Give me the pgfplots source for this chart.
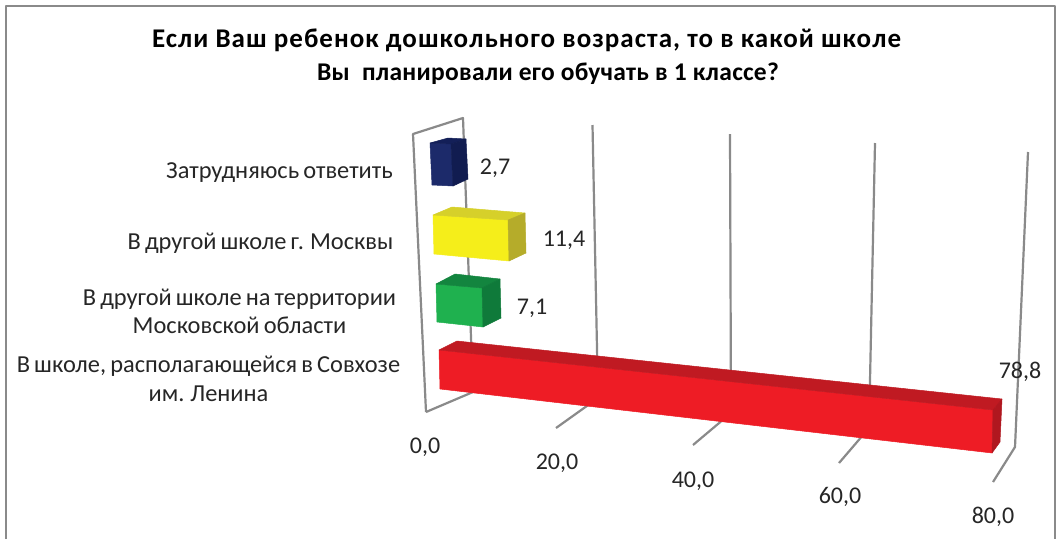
\documentclass[border=0pt]{standalone}
\usepackage{pgfplots}
\usepackage{fontspec}
\pgfplotsset{compat=1.18}
\setmainfont{Carlito}
\newfontfamily\titleA[LetterSpace=3.9]{Carlito}
\newfontfamily\titleB[LetterSpace=1.1]{Carlito}
\newfontfamily\catf[WordSpace=0.75]{Carlito}
\definecolor{gridg}{HTML}{8A8A8A}
\definecolor{txt}{HTML}{262626}
\definecolor{navyF}{HTML}{1C2A6A}
\definecolor{navyT}{HTML}{131F58}
\definecolor{navyS}{HTML}{111C50}
\definecolor{yelF}{HTML}{F5EE1A}
\definecolor{yelT}{HTML}{D6D02A}
\definecolor{yelS}{HTML}{B5AC2A}
\definecolor{grnF}{HTML}{1FB14F}
\definecolor{grnT}{HTML}{13853F}
\definecolor{grnS}{HTML}{0F7A3A}
\definecolor{redF}{HTML}{EE1C25}
\definecolor{redT}{HTML}{C01A22}
\definecolor{redS}{HTML}{B0171F}
\newcommand{\lab}[1]{\fontsize{#1}{#1}\selectfont}
\tikzset{
  cat/.style={font=\catf\lab{24.4}, text=txt, anchor=base},
  num/.style={font=\lab{24}, text=txt, anchor=base},
  grid line/.style={draw=gridg, line width=2.2pt},
  face/.style={draw=#1, fill=#1, line width=0.5pt},
}
\begin{document}
\begin{tikzpicture}
\begin{axis}[
  scale only axis, width=1057pt, height=539pt,
  xmin=0, xmax=1057, ymin=0, ymax=539, y dir=reverse,
  axis lines=none, no markers, clip=true,
  every axis plot/.append style={line join=round},
]
% white page: holds the picture to the reference's full size
\addplot[draw=none, fill=white] coordinates {(0,0) (1057,0) (1057,539) (0,539)} --cycle;
% outer frame
\addplot[draw=gridg, line width=2.2pt] coordinates {(6,539) (6,6) (1055,6) (1055,539)};
% back wall at 0 and floor
\addplot[grid line] coordinates {(426,412) (413,134) (463,118) (473,392)};
\addplot[grid line] coordinates {(426,412) (473,392)};
% gridlines 20 40 60 80
\addplot[grid line] coordinates {(592.5,125) (598,398) (556,428)};
\addplot[grid line] coordinates {(730,134) (731,413) (693,445)};
\addplot[grid line] coordinates {(875,143) (869,428) (839,463)};
\addplot[grid line] coordinates {(1028,152) (1015,447) (993,482)};
% value 2,7
\addplot[face=navyF] coordinates {(430,143) (451,144) (453,186) (432,185)} --cycle;
\addplot[face=navyT] coordinates {(430,143) (448,138) (466,139) (451,144)} --cycle;
\addplot[face=navyS] coordinates {(451,144) (466,139) (468,179) (453,186)} --cycle;
% value 11,4
\addplot[face=yelF] coordinates {(433,215) (508,220) (509,261) (434,254)} --cycle;
\addplot[face=yelT] coordinates {(433,215) (452,207) (525,213) (508,220)} --cycle;
\addplot[face=yelS] coordinates {(508,220) (525,213) (526,253) (509,261)} --cycle;
% value 7,1
\addplot[face=grnF] coordinates {(436,284) (482,288) (483,327) (437,322)} --cycle;
\addplot[face=grnT] coordinates {(436,284) (455,274) (500,279) (482,288)} --cycle;
\addplot[face=grnS] coordinates {(482,288) (500,279) (501,318) (483,327)} --cycle;
% value 78,8
\addplot[face=redF] coordinates {(439,350) (993,410) (992,453) (440,389)} --cycle;
\addplot[face=redT] coordinates {(439,350) (457,341) (1002,399) (993,410)} --cycle;
\addplot[face=redS] coordinates {(993,410) (1002,399) (1000,442) (992,453)} --cycle;
% title
\node[font=\titleA\lab{27}\bfseries, text=black, anchor=base] at (axis cs:526.5,47) {Если Ваш ребенок дошкольного возраста, то в какой школе};
\node[font=\titleB\lab{25.5}\bfseries, text=black, anchor=base] at (axis cs:548,80) {Вы\ \ планировали его обучать в 1 классе?};
% category labels
\node[cat] at (axis cs:279.5,178) {Затрудняюсь ответить};
\node[cat] at (axis cs:260.5,249) {В другой школе г. Москвы};
\node[cat] at (axis cs:239.5,305) {В другой школе на территории};
\node[cat] at (axis cs:239.5,333) {Московской области};
\node[cat] at (axis cs:208.5,372) {В школе, располагающейся в Совхозе};
\node[cat] at (axis cs:208.5,401) {им. Ленина};
% data labels
\node[num] at (axis cs:495,174) {2,7};
\node[num] at (axis cs:564,246) {11,4};
\node[num] at (axis cs:532,314) {7,1};
\node[num] at (axis cs:1020,378) {78,8};
% tick labels
\node[num] at (axis cs:425,453) {0,0};
\node[num] at (axis cs:557,469) {20,0};
\node[num] at (axis cs:693,487) {40,0};
\node[num] at (axis cs:840,503) {60,0};
\node[num] at (axis cs:993,523) {80,0};
\end{axis}
\end{tikzpicture}
\end{document}
